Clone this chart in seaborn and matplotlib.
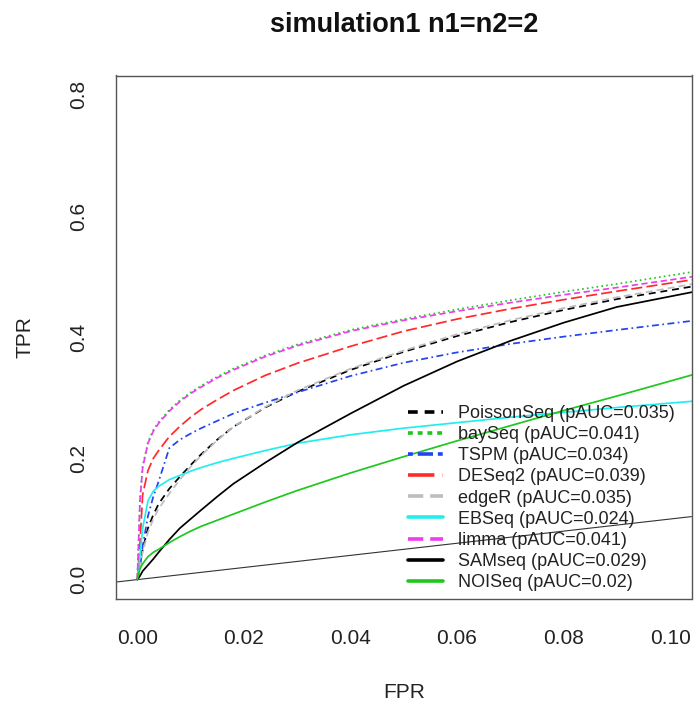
import numpy as np
import pandas as pd
import matplotlib
matplotlib.use("Agg")
import matplotlib.pyplot as plt
from matplotlib.lines import Line2D
import seaborn as sns

# false positive rate grid shared by all curves
fpr = [0, 0.0005, 0.001, 0.002, 0.003, 0.004, 0.006, 0.008, 0.010, 0.012, 0.015, 0.018,
       0.024, 0.030, 0.040, 0.050, 0.060, 0.070, 0.080, 0.090, 0.105]

# tpr per method
tpr_poissonseq = [0, 0.022, 0.05, 0.085, 0.107, 0.125, 0.150, 0.170, 0.189, 0.207, 0.231, 0.252,
                  0.284, 0.310, 0.346, 0.376, 0.402, 0.425, 0.445, 0.463, 0.485]
tpr_bayseq = [0, 0.132, 0.187, 0.227, 0.247, 0.260, 0.280, 0.296, 0.309, 0.320, 0.335, 0.348,
              0.370, 0.388, 0.412, 0.430, 0.446, 0.461, 0.475, 0.488, 0.509]
tpr_tspm = [0, 0.020, 0.055, 0.105, 0.137, 0.162, 0.217, 0.231, 0.241, 0.250, 0.262, 0.274,
            0.292, 0.309, 0.336, 0.358, 0.375, 0.389, 0.401, 0.412, 0.428]
tpr_deseq2 = [0, 0.060, 0.140, 0.180, 0.200, 0.213, 0.236, 0.253, 0.268, 0.281, 0.297, 0.312,
              0.337, 0.357, 0.385, 0.410, 0.430, 0.447, 0.462, 0.476, 0.496]
tpr_edger = [0, 0.020, 0.045, 0.078, 0.100, 0.117, 0.142, 0.165, 0.186, 0.205, 0.230, 0.252,
             0.285, 0.312, 0.348, 0.378, 0.405, 0.428, 0.448, 0.466, 0.489]
tpr_ebseq = [0, 0.040, 0.085, 0.130, 0.146, 0.154, 0.165, 0.172, 0.179, 0.185, 0.193, 0.200,
             0.213, 0.225, 0.239, 0.250, 0.259, 0.268, 0.276, 0.284, 0.295]
tpr_limma = [0, 0.130, 0.185, 0.225, 0.245, 0.258, 0.278, 0.294, 0.307, 0.318, 0.333, 0.346,
             0.368, 0.386, 0.410, 0.428, 0.443, 0.457, 0.470, 0.482, 0.501]
tpr_samseq = [0, 0.006, 0.014, 0.024, 0.034, 0.045, 0.066, 0.085, 0.100, 0.115, 0.137, 0.158,
              0.193, 0.226, 0.274, 0.320, 0.360, 0.394, 0.424, 0.450, 0.476]
tpr_noiseq = [0, 0.018, 0.026, 0.038, 0.045, 0.050, 0.061, 0.071, 0.080, 0.088, 0.098, 0.108,
              0.128, 0.147, 0.176, 0.203, 0.229, 0.254, 0.279, 0.303, 0.340]

methods = ["PoissonSeq", "baySeq", "TSPM", "DESeq2", "edgeR", "EBSeq", "limma", "SAMseq", "NOISeq"]
pauc = ["0.035", "0.041", "0.034", "0.039", "0.035", "0.024", "0.041", "0.029", "0.02"]
tpr_all = [tpr_poissonseq, tpr_bayseq, tpr_tspm, tpr_deseq2, tpr_edger,
           tpr_ebseq, tpr_limma, tpr_samseq, tpr_noiseq]

x_ticks = [0.00, 0.02, 0.04, 0.06, 0.08, 0.10]
x_ticklabels = ["0.00", "0.02", "0.04", "0.06", "0.08", "0.10"]
y_ticks = [0.0, 0.2, 0.4, 0.6, 0.8]
y_ticklabels = ["0.0", "0.2", "0.4", "0.6", "0.8"]

# styling (colours and dashes in points)
colors = ["black", "#1ec81e", "#2244f0", "#ff2a2a", "#bdbdbd", "#22eeee", "#ee3cee", "black", "#1ec81e"]
plot_ls = [(0, (5, 3.5)), (0, (1.2, 2.3)), (0, (5, 2.5, 1.2, 2.5)), (0, (8, 3)), (0, (5, 3)),
           "-", (0, (4.5, 2.5)), "-", "-"]
leg_ls = [(0, (7, 5)), (0, (3.5, 3.5)), (0, (3.5, 3.5, 11, 3.5)), (0, (19, 6)), (0, (11, 5)),
          "-", (0, (11, 5)), "-", "-"]

df = pd.DataFrame({
    "fpr": np.tile(fpr, len(methods)),
    "tpr": np.concatenate(tpr_all),
    "method": np.repeat(methods, len(fpr)),
})

sns.set_theme(style="white")
plt.rcParams["font.family"] = ["Liberation Sans", "DejaVu Sans"]
plt.rcParams["lines.scale_dashes"] = False

fig = plt.figure(figsize=(6.94, 7.09), dpi=100)
ax = fig.add_axes([116 / 694, 1 - 599 / 709, 575.5 / 694, 523.5 / 709])

# reference diagonal
ax.axline((0, 0), slope=1, color="#333333", lw=0.8)

for m, c, ls in zip(methods, colors, plot_ls):
    sns.lineplot(data=df[df["method"] == m], x="fpr", y="tpr", ax=ax, color=c,
                 linestyle=ls, lw=1.25, estimator=None, sort=False, legend=False)

ax.set_xlim(-0.004, 0.104)
ax.set_ylim(-0.032, 0.832)
ax.set_xticks(x_ticks, x_ticklabels)
ax.set_yticks(y_ticks, y_ticklabels)
plt.setp(ax.get_yticklabels(), rotation=90, va="center")

for s in ax.spines.values():
    s.set_visible(True)
    s.set_color("#555555")
    s.set_linewidth(1.0)
ax.tick_params(axis="both", direction="out", length=9.4, width=1.0, color="#555555",
               labelsize=15, labelcolor="#222222")
ax.tick_params(axis="x", pad=12)
ax.tick_params(axis="y", pad=10.5)

ax.set_xlabel("FPR", fontsize=15, color="#222222")
ax.set_ylabel("TPR", fontsize=15, color="#222222")
ax.xaxis.set_label_coords(0.5, -0.1605)
ax.yaxis.set_label_coords(-0.1416, 0.5)

ax.set_title("simulation1 n1=n2=2", fontsize=19.5, fontweight="bold", color="#111111", pad=31)

handles = [Line2D([], [], color=c, linestyle=ls, lw=2.6) for c, ls in zip(colors, leg_ls)]
labels = [f"{m} (pAUC={p})" for m, p in zip(methods, pauc)]
ax.legend(handles, labels, loc="upper left", bbox_to_anchor=(408 / 694, 1 - 405 / 709),
          bbox_transform=fig.transFigure, frameon=False, fontsize=13,
          handlelength=1.94, handletextpad=0.82, borderpad=0, borderaxespad=0,
          labelspacing=0.23, labelcolor="#222222")

fig.savefig("out.png", dpi=100)
